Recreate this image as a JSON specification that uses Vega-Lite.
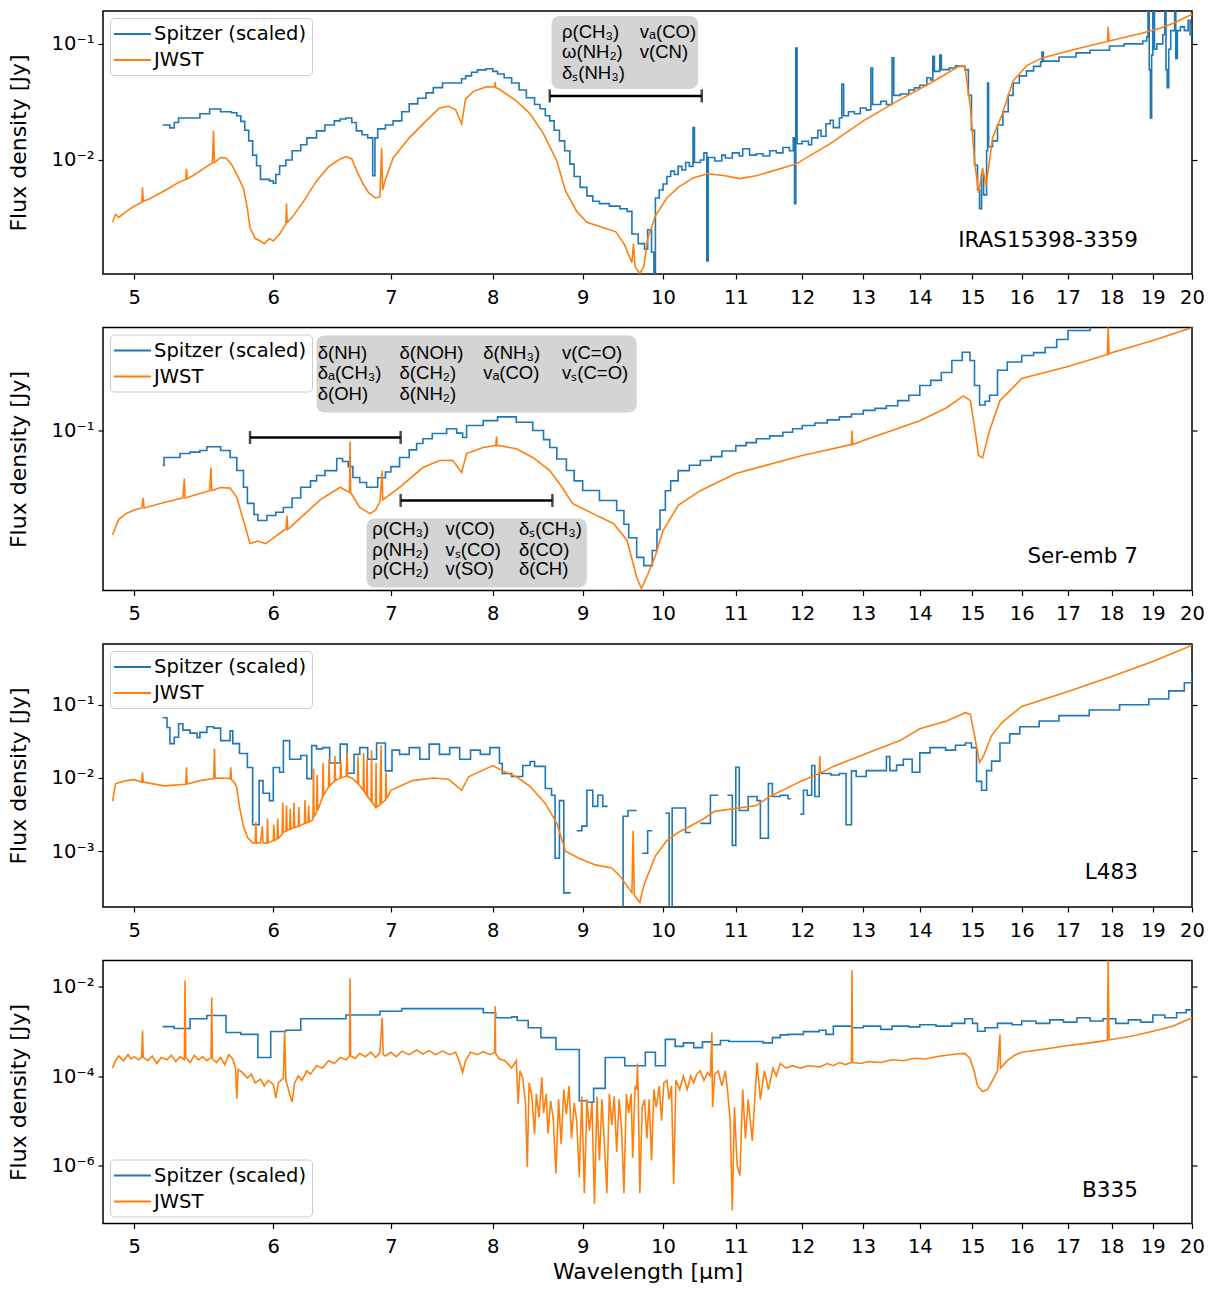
{
  "$schema": "https://vega.github.io/schema/vega-lite/v6.json",
  "background": "white",
  "padding": {"left": 6, "top": 10, "right": 10, "bottom": 6},
  "config": {
    "font": "DejaVu Sans",
    "view": {"stroke": "black", "strokeWidth": 1.5},
    "axis": {"labelFont": "DejaVu Sans", "labelFontSize": 19.5, "labelColor": "black", "tickColor": "black", "tickSize": 5, "tickWidth": 1.2, "domain": false, "grid": false, "titleFont": "DejaVu Sans", "titleFontSize": 22, "titleFontWeight": "normal", "titleColor": "black", "labelPadding": 4},
    "axisY": {"titlePadding": 21},
    "axisX": {"labelPadding": 9, "titlePadding": 5},
    "legend": {"fillColor": "white", "strokeColor": "#cccccc", "cornerRadius": 4, "padding": 5, "offset": 7, "labelFont": "DejaVu Sans", "labelFontSize": 19.5, "labelColor": "black", "labelOffset": 17, "symbolStrokeWidth": 2, "rowPadding": 5, "labelLimit": 400}
  },
  "spacing": 53.5,
  "bounds": "flush",
  "resolve": {"scale": {"color": "independent"}, "legend": {"color": "independent"}},
  "vconcat": [
    {
      "width": 1089, "height": 263,
      "encoding": {
        "x": {"field": "w", "type": "quantitative", "scale": {"type": "log", "domain": [4.8, 20], "nice": false}, "axis": {"values": [5,6,7,8,9,10,11,12,13,14,15,16,17,18,19,20], "format": "d", "labelFlush": false, "labelOverlap": false, "title": null}},
        "y": {"field": "f", "type": "quantitative", "scale": {"type": "log", "domain": [0.00104, 0.192], "nice": false}, "axis": null}
      },
      "resolve": {"axis": {"y": "independent"}},
      "layer": [
        {
          "data": {"values": [
            {"w":5.19,"f":0.020},{"w":5.24,"f":0.0189},{"w":5.27,"f":0.021},{"w":5.3,"f":0.023},{"w":5.38,"f":0.023},{"w":5.45,"f":0.025},{"w":5.52,"f":0.0275},{"w":5.6,"f":0.026},{"w":5.68,"f":0.0255},{"w":5.72,"f":0.024},{"w":5.75,"f":0.0215},{"w":5.78,"f":0.018},{"w":5.81,"f":0.0146},{"w":5.84,"f":0.011},{"w":5.87,"f":0.0089},{"w":5.9,"f":0.0068},{"w":5.97,"f":0.0066},{"w":6.0,"f":0.0063},{"w":6.02,"f":0.0075},{"w":6.05,"f":0.0089},{"w":6.1,"f":0.010},{"w":6.15,"f":0.012},{"w":6.22,"f":0.0135},{"w":6.27,"f":0.0155},{"w":6.35,"f":0.0178},{"w":6.42,"f":0.020},{"w":6.5,"f":0.0217},{"w":6.55,"f":0.0225},{"w":6.6,"f":0.023},{"w":6.65,"f":0.021},{"w":6.69,"f":0.0178},{"w":6.74,"f":0.0165},{"w":6.79,"f":0.0155},{"w":6.835,"f":0.0073},{"w":6.855,"f":0.0155},{"w":6.88,"f":0.0185},{"w":6.95,"f":0.020},{"w":7.02,"f":0.0217},{"w":7.1,"f":0.026},{"w":7.17,"f":0.0304},{"w":7.25,"f":0.034},{"w":7.33,"f":0.0378},{"w":7.4,"f":0.042},{"w":7.49,"f":0.046},{"w":7.62,"f":0.046},{"w":7.68,"f":0.050},{"w":7.72,"f":0.053},{"w":7.78,"f":0.057},{"w":7.84,"f":0.0597},{"w":7.93,"f":0.061},{"w":8.0,"f":0.058},{"w":8.05,"f":0.055},{"w":8.12,"f":0.051},{"w":8.2,"f":0.046},{"w":8.28,"f":0.040},{"w":8.36,"f":0.0343},{"w":8.45,"f":0.030},{"w":8.51,"f":0.0276},{"w":8.57,"f":0.024},{"w":8.62,"f":0.0217},{"w":8.67,"f":0.018},{"w":8.73,"f":0.0146},{"w":8.79,"f":0.012},{"w":8.85,"f":0.0092},{"w":8.9,"f":0.0072},{"w":8.97,"f":0.0058},{"w":9.05,"f":0.0049},{"w":9.12,"f":0.0044},{"w":9.2,"f":0.0042},{"w":9.32,"f":0.0040},{"w":9.45,"f":0.0038},{"w":9.54,"f":0.0036},{"w":9.6,"f":0.0023},{"w":9.68,"f":0.0019},{"w":9.76,"f":0.0017},{"w":9.8,"f":0.0025},{"w":9.85,"f":0.0016},{"w":9.88,"f":0.0005},{"w":9.9,"f":0.0047},{"w":9.95,"f":0.0055},{"w":10.0,"f":0.0062},{"w":10.05,"f":0.0072},{"w":10.1,"f":0.008},{"w":10.15,"f":0.0075},{"w":10.2,"f":0.0088},{"w":10.25,"f":0.0082},{"w":10.3,"f":0.0095},{"w":10.35,"f":0.0088},{"w":10.4,"f":0.019},{"w":10.42,"f":0.0095},{"w":10.5,"f":0.010},{"w":10.55,"f":0.0115},{"w":10.59,"f":0.00135},{"w":10.61,"f":0.0105},{"w":10.7,"f":0.0098},{"w":10.8,"f":0.011},{"w":10.85,"f":0.0104},{"w":10.95,"f":0.0115},{"w":11.05,"f":0.0108},{"w":11.1,"f":0.0125},{"w":11.2,"f":0.011},{"w":11.3,"f":0.0113},{"w":11.4,"f":0.0108},{"w":11.5,"f":0.012},{"w":11.6,"f":0.0115},{"w":11.7,"f":0.0128},{"w":11.8,"f":0.012},{"w":11.86,"f":0.0155},{"w":11.88,"f":0.0042},{"w":11.9,"f":0.092},{"w":11.92,"f":0.0138},{"w":12.0,"f":0.0145},{"w":12.1,"f":0.0135},{"w":12.15,"f":0.0155},{"w":12.25,"f":0.018},{"w":12.3,"f":0.016},{"w":12.38,"f":0.0205},{"w":12.45,"f":0.022},{"w":12.5,"f":0.019},{"w":12.6,"f":0.023},{"w":12.64,"f":0.045},{"w":12.67,"f":0.024},{"w":12.75,"f":0.026},{"w":12.85,"f":0.025},{"w":12.95,"f":0.028},{"w":13.05,"f":0.027},{"w":13.13,"f":0.062},{"w":13.16,"f":0.030},{"w":13.3,"f":0.032},{"w":13.4,"f":0.030},{"w":13.5,"f":0.076},{"w":13.53,"f":0.036},{"w":13.65,"f":0.037},{"w":13.8,"f":0.040},{"w":13.9,"f":0.0418},{"w":14.0,"f":0.044},{"w":14.13,"f":0.051},{"w":14.2,"f":0.049},{"w":14.24,"f":0.078},{"w":14.27,"f":0.058},{"w":14.37,"f":0.080},{"w":14.4,"f":0.060},{"w":14.55,"f":0.062},{"w":14.67,"f":0.0646},{"w":14.76,"f":0.064},{"w":14.85,"f":0.060},{"w":14.92,"f":0.036},{"w":14.98,"f":0.018},{"w":15.04,"f":0.009},{"w":15.1,"f":0.0055},{"w":15.14,"f":0.0038},{"w":15.18,"f":0.0075},{"w":15.22,"f":0.005},{"w":15.28,"f":0.012},{"w":15.3,"f":0.046},{"w":15.32,"f":0.013},{"w":15.4,"f":0.0146},{"w":15.5,"f":0.020},{"w":15.61,"f":0.026},{"w":15.72,"f":0.036},{"w":15.82,"f":0.046},{"w":15.95,"f":0.053},{"w":16.1,"f":0.0585},{"w":16.25,"f":0.064},{"w":16.4,"f":0.070},{"w":16.43,"f":0.085},{"w":16.46,"f":0.071},{"w":16.8,"f":0.077},{"w":17.18,"f":0.0836},{"w":17.5,"f":0.088},{"w":17.95,"f":0.096},{"w":18.3,"f":0.100},{"w":18.75,"f":0.106},{"w":18.85,"f":0.115},{"w":18.88,"f":0.3},{"w":18.91,"f":0.06},{"w":18.94,"f":0.023},{"w":18.97,"f":0.08},{"w":19.0,"f":0.3},{"w":19.04,"f":0.09},{"w":19.1,"f":0.10},{"w":19.25,"f":0.12},{"w":19.3,"f":0.3},{"w":19.33,"f":0.06},{"w":19.36,"f":0.042},{"w":19.4,"f":0.09},{"w":19.45,"f":0.13},{"w":19.55,"f":0.3},{"w":19.58,"f":0.075},{"w":19.62,"f":0.13},{"w":19.7,"f":0.14},{"w":19.8,"f":0.13},{"w":19.9,"f":0.16},{"w":19.95,"f":0.12},{"w":20.0,"f":0.15}
          ]},
          "mark": {"type": "line", "interpolate": "step-after", "strokeWidth": 1.6, "clip": true},
          "encoding": {
            "y": {"field": "f", "type": "quantitative", "scale": {"type": "log", "domain": [0.00104, 0.192], "nice": false}, "axis": {"orient": "left", "values": [0.1, 0.01], "labelExpr": "datum.value > 0.05 ? '10⁻¹' : '10⁻²'", "title": "Flux density [Jy]"}},
            "color": {"datum": "Spitzer (scaled)", "type": "nominal", "scale": {"domain": ["Spitzer (scaled)", "JWST"], "range": ["#1f77b4", "#ff7f0e"]}, "legend": {"title": null, "orient": "top-left", "symbolType": "M-1.2,0H2.5", "symbolSize": 400}}
          }
        },
        {
          "data": {"values": [
            {"w":4.86,"f":0.0029},{"w":4.88,"f":0.0034},{"w":4.9,"f":0.0032},{"w":4.95,"f":0.0036},{"w":5.0,"f":0.0040},{"w":5.05,"f":0.0043},{"w":5.055,"f":0.0058},{"w":5.06,"f":0.0044},{"w":5.1,"f":0.0046},{"w":5.2,"f":0.0054},{"w":5.3,"f":0.0064},{"w":5.35,"f":0.0068},{"w":5.355,"f":0.0084},{"w":5.36,"f":0.0069},{"w":5.4,"f":0.0073},{"w":5.5,"f":0.0088},{"w":5.54,"f":0.0094},{"w":5.548,"f":0.0178},{"w":5.555,"f":0.0095},{"w":5.6,"f":0.0105},{"w":5.64,"f":0.0104},{"w":5.68,"f":0.0092},{"w":5.72,"f":0.0075},{"w":5.77,"f":0.0057},{"w":5.8,"f":0.0038},{"w":5.82,"f":0.0026},{"w":5.86,"f":0.0021},{"w":5.9,"f":0.0020},{"w":5.93,"f":0.0019},{"w":5.97,"f":0.0021},{"w":6.0,"f":0.0020},{"w":6.05,"f":0.0023},{"w":6.1,"f":0.0028},{"w":6.105,"f":0.0042},{"w":6.11,"f":0.0029},{"w":6.15,"f":0.0032},{"w":6.25,"f":0.0045},{"w":6.35,"f":0.0066},{"w":6.45,"f":0.0087},{"w":6.55,"f":0.0102},{"w":6.6,"f":0.0107},{"w":6.65,"f":0.0102},{"w":6.7,"f":0.0078},{"w":6.75,"f":0.0062},{"w":6.8,"f":0.0052},{"w":6.86,"f":0.0047},{"w":6.9,"f":0.0048},{"w":6.915,"f":0.0127},{"w":6.925,"f":0.0055},{"w":6.95,"f":0.0068},{"w":7.02,"f":0.0104},{"w":7.17,"f":0.0155},{"w":7.33,"f":0.0217},{"w":7.46,"f":0.0280},{"w":7.55,"f":0.0290},{"w":7.62,"f":0.0270},{"w":7.68,"f":0.0205},{"w":7.72,"f":0.0336},{"w":7.8,"f":0.0390},{"w":7.93,"f":0.0426},{"w":8.02,"f":0.0425},{"w":8.025,"f":0.047},{"w":8.03,"f":0.0420},{"w":8.06,"f":0.0410},{"w":8.25,"f":0.0323},{"w":8.4,"f":0.0250},{"w":8.55,"f":0.0168},{"w":8.7,"f":0.0098},{"w":8.8,"f":0.0054},{"w":8.93,"f":0.0036},{"w":9.05,"f":0.0029},{"w":9.25,"f":0.0026},{"w":9.4,"f":0.0024},{"w":9.5,"f":0.0019},{"w":9.6,"f":0.0013},{"w":9.62,"f":0.0019},{"w":9.64,"f":0.0012},{"w":9.7,"f":0.00105},{"w":9.75,"f":0.0012},{"w":9.8,"f":0.0021},{"w":9.9,"f":0.0033},{"w":10.05,"f":0.0047},{"w":10.2,"f":0.0058},{"w":10.4,"f":0.0070},{"w":10.6,"f":0.0076},{"w":10.85,"f":0.0073},{"w":11.05,"f":0.0069},{"w":11.3,"f":0.0073},{"w":11.9,"f":0.0092},{"w":12.45,"f":0.0138},{"w":13.0,"f":0.0217},{"w":13.6,"f":0.0323},{"w":14.2,"f":0.046},{"w":14.75,"f":0.0646},{"w":14.85,"f":0.064},{"w":14.96,"f":0.028},{"w":15.04,"f":0.010},{"w":15.12,"f":0.0052},{"w":15.2,"f":0.0085},{"w":15.27,"f":0.0060},{"w":15.4,"f":0.0155},{"w":15.6,"f":0.025},{"w":15.82,"f":0.048},{"w":16.1,"f":0.0646},{"w":16.43,"f":0.0757},{"w":17.18,"f":0.0905},{"w":17.9,"f":0.105},{"w":17.92,"f":0.14},{"w":17.94,"f":0.106},{"w":18.75,"f":0.124},{"w":19.2,"f":0.137},{"w":19.5,"f":0.150},{"w":20.0,"f":0.18}
          ]},
          "mark": {"type": "line", "strokeWidth": 1.6, "clip": true},
          "encoding": {
            "y": {"field": "f", "type": "quantitative", "scale": {"type": "log", "domain": [0.00104, 0.192], "nice": false}, "axis": {"orient": "right", "values": [0.1, 0.01], "labels": false, "title": null}},
            "color": {"datum": "JWST", "type": "nominal", "scale": {"domain": ["Spitzer (scaled)", "JWST"], "range": ["#1f77b4", "#ff7f0e"]}, "legend": {"title": null, "orient": "top-left", "symbolType": "M-1.2,0H2.5", "symbolSize": 400}}
          }
        },
        {
          "data": {"values": [{"w": 8.64, "w2": 10.47, "f": 0.174, "f2": 0.0409}]},
          "mark": {"type": "rect", "fill": "#d4d4d4", "cornerRadius": 8},
          "encoding": {"x2": {"field": "w2"}, "y2": {"field": "f2"}}
        },
        {
          "data": {"values": [
            {"w": 8.76, "f": 0.127, "t": "ρ(CH₃)"}, {"w": 9.70, "f": 0.127, "t": "vₐ(CO)"},
            {"w": 8.76, "f": 0.0853, "t": "ω(NH₂)"}, {"w": 9.70, "f": 0.0853, "t": "v(CN)"},
            {"w": 8.76, "f": 0.0562, "t": "δₛ(NH₃)"}
          ]},
          "mark": {"type": "text", "align": "left", "baseline": "middle", "font": "Liberation Sans", "fontSize": 18.5, "color": "black"},
          "encoding": {"text": {"field": "t"}}
        },
        {
          "data": {"values": [{"w": 8.62, "w2": 10.52, "f": 0.0356}]},
          "layer": [
            {"mark": {"type": "rule", "strokeWidth": 2.5, "color": "black"}, "encoding": {"x2": {"field": "w2"}}},
            {"mark": {"type": "tick", "orient": "vertical", "size": 13, "thickness": 2.5, "color": "black"}},
            {"mark": {"type": "tick", "orient": "vertical", "size": 13, "thickness": 2.5, "color": "black"}, "encoding": {"x": {"field": "w2", "type": "quantitative"}}}
          ]
        },
        {
          "data": {"values": [{"w": 18.63, "f": 0.002, "t": "IRAS15398-3359"}]},
          "mark": {"type": "text", "align": "right", "baseline": "middle", "font": "DejaVu Sans", "fontSize": 21.5, "color": "black"},
          "encoding": {"text": {"field": "t"}}
        }
      ]
    },
    {
      "width": 1089, "height": 263,
      "encoding": {
        "x": {"field": "w", "type": "quantitative", "scale": {"type": "log", "domain": [4.8, 20], "nice": false}, "axis": {"values": [5,6,7,8,9,10,11,12,13,14,15,16,17,18,19,20], "format": "d", "labelFlush": false, "labelOverlap": false, "title": null}},
        "y": {"field": "f", "type": "quantitative", "scale": {"type": "log", "domain": [0.01585, 0.3273], "nice": false}, "axis": null}
      },
      "resolve": {"axis": {"y": "independent"}},
      "layer": [
        {
          "data": {"values": [
            {"w":5.19,"f":0.0668},{"w":5.2,"f":0.0733},{"w":5.31,"f":0.0767},{"w":5.38,"f":0.078},{"w":5.45,"f":0.0794},{"w":5.5,"f":0.083},{"w":5.6,"f":0.0794},{"w":5.67,"f":0.0733},{"w":5.72,"f":0.0631},{"w":5.77,"f":0.052},{"w":5.8,"f":0.0432},{"w":5.85,"f":0.038},{"w":5.88,"f":0.0355},{"w":5.95,"f":0.0376},{"w":6.02,"f":0.039},{"w":6.08,"f":0.0412},{"w":6.15,"f":0.046},{"w":6.22,"f":0.052},{"w":6.3,"f":0.056},{"w":6.35,"f":0.0596},{"w":6.42,"f":0.063},{"w":6.52,"f":0.0724},{"w":6.57,"f":0.070},{"w":6.62,"f":0.066},{"w":6.66,"f":0.0582},{"w":6.72,"f":0.055},{"w":6.78,"f":0.052},{"w":6.88,"f":0.058},{"w":6.95,"f":0.062},{"w":7.0,"f":0.066},{"w":7.08,"f":0.0733},{"w":7.17,"f":0.080},{"w":7.24,"f":0.0861},{"w":7.3,"f":0.091},{"w":7.39,"f":0.0966},{"w":7.53,"f":0.102},{"w":7.63,"f":0.097},{"w":7.69,"f":0.0923},{"w":7.73,"f":0.106},{"w":7.9,"f":0.112},{"w":8.05,"f":0.117},{"w":8.25,"f":0.110},{"w":8.43,"f":0.100},{"w":8.55,"f":0.090},{"w":8.62,"f":0.0822},{"w":8.7,"f":0.072},{"w":8.81,"f":0.0631},{"w":8.9,"f":0.056},{"w":9.0,"f":0.0501},{"w":9.2,"f":0.0447},{"w":9.41,"f":0.0398},{"w":9.5,"f":0.034},{"w":9.56,"f":0.0291},{"w":9.66,"f":0.0232},{"w":9.75,"f":0.0211},{"w":9.86,"f":0.0251},{"w":9.92,"f":0.032},{"w":9.96,"f":0.040},{"w":10.03,"f":0.050},{"w":10.1,"f":0.056},{"w":10.2,"f":0.063},{"w":10.35,"f":0.067},{"w":10.5,"f":0.0708},{"w":10.65,"f":0.074},{"w":10.8,"f":0.079},{"w":11.0,"f":0.084},{"w":11.15,"f":0.087},{"w":11.3,"f":0.091},{"w":11.5,"f":0.094},{"w":11.7,"f":0.098},{"w":11.85,"f":0.102},{"w":12.0,"f":0.106},{"w":12.2,"f":0.109},{"w":12.4,"f":0.113},{"w":12.6,"f":0.117},{"w":12.8,"f":0.121},{"w":13.0,"f":0.126},{"w":13.2,"f":0.129},{"w":13.4,"f":0.133},{"w":13.6,"f":0.141},{"w":13.8,"f":0.150},{"w":14.0,"f":0.168},{"w":14.2,"f":0.178},{"w":14.4,"f":0.195},{"w":14.6,"f":0.224},{"w":14.8,"f":0.246},{"w":14.95,"f":0.224},{"w":15.04,"f":0.168},{"w":15.14,"f":0.134},{"w":15.25,"f":0.140},{"w":15.34,"f":0.150},{"w":15.5,"f":0.200},{"w":15.7,"f":0.220},{"w":16.0,"f":0.237},{"w":16.25,"f":0.245},{"w":16.5,"f":0.260},{"w":16.75,"f":0.285},{"w":17.0,"f":0.316},{"w":17.5,"f":0.340}
          ]},
          "mark": {"type": "line", "interpolate": "step-after", "strokeWidth": 1.6, "clip": true},
          "encoding": {
            "y": {"field": "f", "type": "quantitative", "scale": {"type": "log", "domain": [0.01585, 0.3273], "nice": false}, "axis": {"orient": "left", "values": [0.1], "labelExpr": "'10⁻¹'", "title": "Flux density [Jy]"}},
            "color": {"datum": "Spitzer (scaled)", "type": "nominal", "scale": {"domain": ["Spitzer (scaled)", "JWST"], "range": ["#1f77b4", "#ff7f0e"]}, "legend": {"title": null, "orient": "top-left", "symbolType": "M-1.2,0H2.5", "symbolSize": 400}}
          }
        },
        {
          "data": {"values": [
            {"w":4.86,"f":0.030},{"w":4.9,"f":0.036},{"w":4.95,"f":0.0385},{"w":5.0,"f":0.040},{"w":5.05,"f":0.041},{"w":5.06,"f":0.046},{"w":5.065,"f":0.041},{"w":5.2,"f":0.0437},{"w":5.33,"f":0.046},{"w":5.34,"f":0.0575},{"w":5.345,"f":0.046},{"w":5.45,"f":0.0484},{"w":5.52,"f":0.050},{"w":5.53,"f":0.0653},{"w":5.535,"f":0.050},{"w":5.6,"f":0.0519},{"w":5.67,"f":0.0515},{"w":5.72,"f":0.0463},{"w":5.77,"f":0.0355},{"w":5.82,"f":0.0272},{"w":5.88,"f":0.028},{"w":5.94,"f":0.0272},{"w":6.0,"f":0.029},{"w":6.08,"f":0.0316},{"w":6.1,"f":0.032},{"w":6.11,"f":0.0376},{"w":6.115,"f":0.032},{"w":6.22,"f":0.0367},{"w":6.38,"f":0.045},{"w":6.55,"f":0.052},{"w":6.63,"f":0.049},{"w":6.635,"f":0.088},{"w":6.64,"f":0.049},{"w":6.72,"f":0.0412},{"w":6.81,"f":0.0384},{"w":6.86,"f":0.040},{"w":6.9,"f":0.044},{"w":6.92,"f":0.063},{"w":6.925,"f":0.045},{"w":7.08,"f":0.052},{"w":7.3,"f":0.0653},{"w":7.46,"f":0.0708},{"w":7.59,"f":0.071},{"w":7.68,"f":0.0617},{"w":7.73,"f":0.0767},{"w":7.9,"f":0.0822},{"w":8.03,"f":0.084},{"w":8.04,"f":0.0933},{"w":8.045,"f":0.084},{"w":8.07,"f":0.0841},{"w":8.25,"f":0.081},{"w":8.43,"f":0.0733},{"w":8.62,"f":0.0631},{"w":8.76,"f":0.052},{"w":8.88,"f":0.0432},{"w":9.12,"f":0.0384},{"w":9.37,"f":0.0343},{"w":9.54,"f":0.0282},{"w":9.66,"f":0.0184},{"w":9.72,"f":0.0162},{"w":9.8,"f":0.019},{"w":9.9,"f":0.0237},{"w":10.0,"f":0.0316},{"w":10.2,"f":0.0422},{"w":10.5,"f":0.050},{"w":11.0,"f":0.061},{"w":12.0,"f":0.075},{"w":12.8,"f":0.085},{"w":12.81,"f":0.100},{"w":12.82,"f":0.085},{"w":13.0,"f":0.089},{"w":14.0,"f":0.112},{"w":14.5,"f":0.130},{"w":14.82,"f":0.149},{"w":14.96,"f":0.141},{"w":15.05,"f":0.100},{"w":15.12,"f":0.075},{"w":15.2,"f":0.073},{"w":15.34,"f":0.100},{"w":15.55,"f":0.141},{"w":16.0,"f":0.182},{"w":17.0,"f":0.209},{"w":17.9,"f":0.240},{"w":17.92,"f":0.33},{"w":17.94,"f":0.241},{"w":18.0,"f":0.245},{"w":19.0,"f":0.282},{"w":20.0,"f":0.327}
          ]},
          "mark": {"type": "line", "strokeWidth": 1.6, "clip": true},
          "encoding": {
            "y": {"field": "f", "type": "quantitative", "scale": {"type": "log", "domain": [0.01585, 0.3273], "nice": false}, "axis": {"orient": "right", "values": [0.1], "labels": false, "title": null}},
            "color": {"datum": "JWST", "type": "nominal", "scale": {"domain": ["Spitzer (scaled)", "JWST"], "range": ["#1f77b4", "#ff7f0e"]}, "legend": {"title": null, "orient": "top-left", "symbolType": "M-1.2,0H2.5", "symbolSize": 400}}
          }
        },
        {
          "data": {"values": [
            {"w": 6.35, "w2": 9.66, "f": 0.2985, "f2": 0.123},
            {"w": 6.78, "w2": 9.05, "f": 0.0363, "f2": 0.0164}
          ]},
          "mark": {"type": "rect", "fill": "#d4d4d4", "cornerRadius": 8},
          "encoding": {"x2": {"field": "w2"}, "y2": {"field": "f2"}}
        },
        {
          "data": {"values": [
            {"w": 6.36, "f": 0.245, "t": "δ(NH)"}, {"w": 6.36, "f": 0.193, "t": "δₐ(CH₃)"}, {"w": 6.36, "f": 0.153, "t": "δ(OH)"},
            {"w": 7.08, "f": 0.245, "t": "δ(NOH)"}, {"w": 7.08, "f": 0.193, "t": "δ(CH₂)"}, {"w": 7.08, "f": 0.153, "t": "δ(NH₂)"},
            {"w": 7.90, "f": 0.245, "t": "δ(NH₃)"}, {"w": 7.90, "f": 0.193, "t": "vₐ(CO)"},
            {"w": 8.76, "f": 0.245, "t": "v(C=O)"}, {"w": 8.76, "f": 0.193, "t": "vₛ(C=O)"},
            {"w": 6.83, "f": 0.032, "t": "ρ(CH₃)"}, {"w": 6.83, "f": 0.0254, "t": "ρ(NH₂)"}, {"w": 6.83, "f": 0.0202, "t": "ρ(CH₂)"},
            {"w": 7.52, "f": 0.032, "t": "v(CO)"}, {"w": 7.52, "f": 0.0254, "t": "vₛ(CO)"}, {"w": 7.52, "f": 0.0202, "t": "v(SO)"},
            {"w": 8.28, "f": 0.032, "t": "δₛ(CH₃)"}, {"w": 8.28, "f": 0.0254, "t": "δ(CO)"}, {"w": 8.28, "f": 0.0202, "t": "δ(CH)"}
          ]},
          "mark": {"type": "text", "align": "left", "baseline": "middle", "font": "Liberation Sans", "fontSize": 18.5, "color": "black"},
          "encoding": {"text": {"field": "t"}}
        },
        {
          "data": {"values": [{"w": 5.82, "w2": 7.09, "f": 0.0923}, {"w": 7.09, "w2": 8.65, "f": 0.0447}]},
          "layer": [
            {"mark": {"type": "rule", "strokeWidth": 2.5, "color": "black"}, "encoding": {"x2": {"field": "w2"}}},
            {"mark": {"type": "tick", "orient": "vertical", "size": 13, "thickness": 2.5, "color": "black"}},
            {"mark": {"type": "tick", "orient": "vertical", "size": 13, "thickness": 2.5, "color": "black"}, "encoding": {"x": {"field": "w2", "type": "quantitative"}}}
          ]
        },
        {
          "data": {"values": [{"w": 18.63, "f": 0.0234, "t": "Ser-emb 7"}]},
          "mark": {"type": "text", "align": "right", "baseline": "middle", "font": "DejaVu Sans", "fontSize": 21.5, "color": "black"},
          "encoding": {"text": {"field": "t"}}
        }
      ]
    },
    {
      "width": 1089, "height": 263,
      "encoding": {
        "x": {"field": "w", "type": "quantitative", "scale": {"type": "log", "domain": [4.8, 20], "nice": false}, "axis": {"values": [5,6,7,8,9,10,11,12,13,14,15,16,17,18,19,20], "format": "d", "labelFlush": false, "labelOverlap": false, "title": null}},
        "y": {"field": "f", "type": "quantitative", "scale": {"type": "log", "domain": [0.000173, 0.676], "nice": false}, "axis": null}
      },
      "resolve": {"axis": {"y": "independent"}},
      "layer": [
        {
          "data": {"values": [
            {"seg":"a","w":5.19,"f":0.0665},{"seg":"a","w":5.22,"f":0.049},{"seg":"a","w":5.24,"f":0.0295},{"seg":"a","w":5.27,"f":0.036},{"seg":"a","w":5.3,"f":0.055},{"seg":"a","w":5.33,"f":0.045},{"seg":"a","w":5.38,"f":0.041},{"seg":"a","w":5.43,"f":0.0356},{"seg":"a","w":5.45,"f":0.042},{"seg":"a","w":5.5,"f":0.050},{"seg":"a","w":5.55,"f":0.048},{"seg":"a","w":5.6,"f":0.0324},{"seg":"a","w":5.67,"f":0.044},{"seg":"a","w":5.69,"f":0.0295},{"seg":"a","w":5.74,"f":0.0216},{"seg":"a","w":5.8,"f":0.0139},{"seg":"a","w":5.84,"f":0.0023},{"seg":"a","w":5.89,"f":0.0092},{"seg":"a","w":5.92,"f":0.0062},{"seg":"a","w":5.97,"f":0.0049},{"seg":"a","w":6.0,"f":0.0139},{"seg":"a","w":6.05,"f":0.012},{"seg":"a","w":6.08,"f":0.0324},{"seg":"a","w":6.13,"f":0.018},{"seg":"a","w":6.22,"f":0.0203},{"seg":"a","w":6.27,"f":0.0098},{"seg":"a","w":6.31,"f":0.0277},{"seg":"a","w":6.35,"f":0.025},{"seg":"a","w":6.4,"f":0.026},{"seg":"a","w":6.46,"f":0.016},{"seg":"a","w":6.55,"f":0.029},{"seg":"a","w":6.61,"f":0.0116},{"seg":"a","w":6.67,"f":0.021},{"seg":"a","w":6.72,"f":0.026},{"seg":"a","w":6.79,"f":0.018},{"seg":"a","w":6.87,"f":0.030},{"seg":"a","w":6.95,"f":0.0125},{"seg":"a","w":7.01,"f":0.024},{"seg":"a","w":7.08,"f":0.021},{"seg":"a","w":7.17,"f":0.026},{"seg":"a","w":7.27,"f":0.018},{"seg":"a","w":7.36,"f":0.029},{"seg":"a","w":7.46,"f":0.021},{"seg":"a","w":7.56,"f":0.026},{"seg":"a","w":7.66,"f":0.018},{"seg":"a","w":7.77,"f":0.024},{"seg":"a","w":7.87,"f":0.021},{"seg":"a","w":7.97,"f":0.026},{"seg":"a","w":8.07,"f":0.0158},{"seg":"a","w":8.1,"f":0.0115},{"seg":"a","w":8.2,"f":0.0105},{"seg":"a","w":8.32,"f":0.0148},{"seg":"a","w":8.4,"f":0.0168},{"seg":"a","w":8.45,"f":0.0144},{"seg":"a","w":8.57,"f":0.0072},{"seg":"a","w":8.64,"f":0.0058},{"seg":"a","w":8.68,"f":0.0008},{"seg":"a","w":8.73,"f":0.0049},{"seg":"a","w":8.78,"f":0.00027},{"seg":"a","w":8.86,"f":0.00027},
            {"seg":"b","w":8.93,"f":0.0019},{"seg":"b","w":8.99,"f":0.0022},{"seg":"b","w":9.05,"f":0.0068},{"seg":"b","w":9.12,"f":0.0041},{"seg":"b","w":9.18,"f":0.0058},{"seg":"b","w":9.24,"f":0.0041},{"seg":"b","w":9.3,"f":0.0041},
            {"seg":"c","w":9.48,"f":0.00015},{"seg":"c","w":9.49,"f":0.003},{"seg":"c","w":9.55,"f":0.0036},{"seg":"c","w":9.66,"f":0.0036},
            {"seg":"d","w":9.73,"f":0.00094},{"seg":"d","w":9.8,"f":0.0019},{"seg":"d","w":9.86,"f":0.0019},
            {"seg":"e","w":10.03,"f":0.0033},{"seg":"e","w":10.08,"f":0.0001},{"seg":"e","w":10.12,"f":0.0039},{"seg":"e","w":10.27,"f":0.0039},{"seg":"e","w":10.3,"f":0.0018},{"seg":"e","w":10.37,"f":0.0018},
            {"seg":"f","w":10.5,"f":0.0024},{"seg":"f","w":10.64,"f":0.0058},{"seg":"f","w":10.75,"f":0.0058},
            {"seg":"g","w":10.88,"f":0.0058},{"seg":"g","w":10.95,"f":0.0012},{"seg":"g","w":11.0,"f":0.014},{"seg":"g","w":11.05,"f":0.0036},{"seg":"g","w":11.18,"f":0.0056},{"seg":"g","w":11.31,"f":0.0049},{"seg":"g","w":11.36,"f":0.0015},{"seg":"g","w":11.48,"f":0.0084},{"seg":"g","w":11.54,"f":0.0056},{"seg":"g","w":11.66,"f":0.0058},{"seg":"g","w":11.78,"f":0.0052},{"seg":"g","w":11.82,"f":0.0052},
            {"seg":"h","w":11.97,"f":0.0032},{"seg":"h","w":12.02,"f":0.0068},{"seg":"h","w":12.08,"f":0.0058},{"seg":"h","w":12.15,"f":0.0148},{"seg":"h","w":12.2,"f":0.0056},{"seg":"h","w":12.27,"f":0.0115},{"seg":"h","w":12.46,"f":0.0110},{"seg":"h","w":12.6,"f":0.0115},{"seg":"h","w":12.71,"f":0.0023},{"seg":"h","w":12.8,"f":0.0125},{"seg":"h","w":12.88,"f":0.0105},{"seg":"h","w":13.05,"f":0.0126},{"seg":"h","w":13.22,"f":0.0126},{"seg":"h","w":13.4,"f":0.0196},{"seg":"h","w":13.46,"f":0.0126},{"seg":"h","w":13.58,"f":0.015},{"seg":"h","w":13.7,"f":0.018},{"seg":"h","w":13.86,"f":0.012},{"seg":"h","w":14.0,"f":0.022},{"seg":"h","w":14.19,"f":0.026},{"seg":"h","w":14.48,"f":0.024},{"seg":"h","w":14.67,"f":0.028},{"seg":"h","w":14.86,"f":0.030},{"seg":"h","w":14.98,"f":0.026},{"seg":"h","w":15.08,"f":0.009},{"seg":"h","w":15.18,"f":0.0068},{"seg":"h","w":15.28,"f":0.0126},{"seg":"h","w":15.38,"f":0.017},{"seg":"h","w":15.55,"f":0.030},{"seg":"h","w":15.75,"f":0.040},{"seg":"h","w":15.96,"f":0.050},{"seg":"h","w":16.37,"f":0.060},{"seg":"h","w":16.8,"f":0.071},{"seg":"h","w":17.48,"f":0.085},{"seg":"h","w":18.19,"f":0.100},{"seg":"h","w":18.9,"f":0.120},{"seg":"h","w":19.4,"f":0.155},{"seg":"h","w":19.8,"f":0.200},{"seg":"h","w":20.0,"f":0.272}
          ]},
          "mark": {"type": "line", "interpolate": "step-after", "strokeWidth": 1.6, "clip": true},
          "encoding": {
            "y": {"field": "f", "type": "quantitative", "scale": {"type": "log", "domain": [0.000173, 0.676], "nice": false}, "axis": {"orient": "left", "values": [0.1, 0.01, 0.001], "labelExpr": "datum.value > 0.05 ? '10⁻¹' : datum.value > 0.005 ? '10⁻²' : '10⁻³'", "title": "Flux density [Jy]"}},
            "detail": {"field": "seg"},
            "color": {"datum": "Spitzer (scaled)", "type": "nominal", "scale": {"domain": ["Spitzer (scaled)", "JWST"], "range": ["#1f77b4", "#ff7f0e"]}, "legend": {"title": null, "orient": "top-left", "symbolType": "M-1.2,0H2.5", "symbolSize": 400}}
          }
        },
        {
          "data": {"values": [
            {"w":4.86,"f":0.0048},{"w":4.88,"f":0.0084},{"w":4.95,"f":0.0092},{"w":5.0,"f":0.0095},{"w":5.05,"f":0.0088},{"w":5.055,"f":0.012},{"w":5.06,"f":0.0088},{"w":5.2,"f":0.0078},{"w":5.35,"f":0.0082},{"w":5.355,"f":0.014},{"w":5.36,"f":0.0083},{"w":5.45,"f":0.0092},{"w":5.55,"f":0.0098},{"w":5.555,"f":0.025},{"w":5.56,"f":0.0099},{"w":5.6,"f":0.010},{"w":5.67,"f":0.0098},{"w":5.675,"f":0.014},{"w":5.68,"f":0.0095},{"w":5.7,"f":0.0088},{"w":5.72,"f":0.0074},{"w":5.74,"f":0.0040},{"w":5.77,"f":0.0022},{"w":5.80,"f":0.00155},{"w":5.84,"f":0.0013},{"w":5.86,"f":0.0013},{"w":5.865,"f":0.0025},{"w":5.87,"f":0.0013},{"w":5.9,"f":0.0013},{"w":5.915,"f":0.0022},{"w":5.92,"f":0.0013},{"w":5.95,"f":0.00128},{"w":5.955,"f":0.0028},{"w":5.96,"f":0.0013},{"w":6.0,"f":0.0014},{"w":6.005,"f":0.0023},{"w":6.01,"f":0.0014},{"w":6.03,"f":0.0015},{"w":6.035,"f":0.0028},{"w":6.04,"f":0.0015},{"w":6.07,"f":0.0017},{"w":6.075,"f":0.0046},{"w":6.08,"f":0.0018},{"w":6.1,"f":0.0019},{"w":6.105,"f":0.0042},{"w":6.11,"f":0.0019},{"w":6.13,"f":0.0020},{"w":6.135,"f":0.0038},{"w":6.14,"f":0.0020},{"w":6.16,"f":0.0021},{"w":6.165,"f":0.0046},{"w":6.17,"f":0.0021},{"w":6.2,"f":0.0022},{"w":6.205,"f":0.0040},{"w":6.21,"f":0.0022},{"w":6.25,"f":0.0024},{"w":6.255,"f":0.0050},{"w":6.26,"f":0.0024},{"w":6.28,"f":0.0025},{"w":6.285,"f":0.0042},{"w":6.29,"f":0.0025},{"w":6.32,"f":0.0027},{"w":6.325,"f":0.0134},{"w":6.33,"f":0.0030},{"w":6.35,"f":0.0034},{"w":6.355,"f":0.011},{"w":6.36,"f":0.0036},{"w":6.4,"f":0.0055},{"w":6.405,"f":0.016},{"w":6.41,"f":0.0058},{"w":6.45,"f":0.0075},{"w":6.455,"f":0.018},{"w":6.46,"f":0.0078},{"w":6.5,"f":0.0090},{"w":6.505,"f":0.020},{"w":6.51,"f":0.0092},{"w":6.55,"f":0.0100},{"w":6.555,"f":0.017},{"w":6.56,"f":0.0101},{"w":6.6,"f":0.0105},{"w":6.61,"f":0.022},{"w":6.615,"f":0.0105},{"w":6.65,"f":0.0100},{"w":6.7,"f":0.0085},{"w":6.705,"f":0.020},{"w":6.71,"f":0.0082},{"w":6.75,"f":0.0068},{"w":6.755,"f":0.022},{"w":6.76,"f":0.0066},{"w":6.78,"f":0.0058},{"w":6.785,"f":0.018},{"w":6.79,"f":0.0056},{"w":6.82,"f":0.0048},{"w":6.825,"f":0.024},{"w":6.83,"f":0.0047},{"w":6.86,"f":0.0040},{"w":6.865,"f":0.016},{"w":6.87,"f":0.0040},{"w":6.9,"f":0.0043},{"w":6.91,"f":0.028},{"w":6.915,"f":0.0045},{"w":6.95,"f":0.0050},{"w":6.955,"f":0.012},{"w":6.96,"f":0.0052},{"w":7.0,"f":0.0068},{"w":7.2,"f":0.0092},{"w":7.4,"f":0.0100},{"w":7.55,"f":0.0096},{"w":7.68,"f":0.0068},{"w":7.75,"f":0.0104},{"w":8.0,"f":0.0148},{"w":8.1,"f":0.0126},{"w":8.25,"f":0.0104},{"w":8.4,"f":0.0077},{"w":8.57,"f":0.0045},{"w":8.7,"f":0.0024},{"w":8.8,"f":0.0010},{"w":8.95,"f":0.00081},{"w":9.15,"f":0.00065},{"w":9.35,"f":0.00059},{"w":9.45,"f":0.00046},{"w":9.6,"f":0.00027},{"w":9.615,"f":0.0019},{"w":9.63,"f":0.00025},{"w":9.7,"f":0.00020},{"w":9.75,"f":0.00034},{"w":9.9,"f":0.00086},{"w":10.05,"f":0.0014},{"w":10.2,"f":0.0018},{"w":10.5,"f":0.0026},{"w":10.7,"f":0.0035},{"w":11.3,"f":0.0042},{"w":11.5,"f":0.0056},{"w":12.0,"f":0.0092},{"w":12.27,"f":0.0115},{"w":12.28,"f":0.020},{"w":12.29,"f":0.0116},{"w":12.5,"f":0.0144},{"w":13.05,"f":0.0216},{"w":13.64,"f":0.0324},{"w":14.0,"f":0.047},{"w":14.5,"f":0.060},{"w":14.86,"f":0.078},{"w":14.96,"f":0.074},{"w":15.04,"f":0.038},{"w":15.14,"f":0.0163},{"w":15.22,"f":0.020},{"w":15.38,"f":0.038},{"w":15.6,"f":0.058},{"w":16.0,"f":0.095},{"w":17.0,"f":0.152},{"w":18.0,"f":0.243},{"w":19.0,"f":0.389},{"w":20.0,"f":0.65}
          ]},
          "mark": {"type": "line", "strokeWidth": 1.6, "clip": true},
          "encoding": {
            "y": {"field": "f", "type": "quantitative", "scale": {"type": "log", "domain": [0.000173, 0.676], "nice": false}, "axis": {"orient": "right", "values": [0.1, 0.01, 0.001], "labels": false, "title": null}},
            "color": {"datum": "JWST", "type": "nominal", "scale": {"domain": ["Spitzer (scaled)", "JWST"], "range": ["#1f77b4", "#ff7f0e"]}, "legend": {"title": null, "orient": "top-left", "symbolType": "M-1.2,0H2.5", "symbolSize": 400}}
          }
        },
        {
          "data": {"values": [{"w": 18.63, "f": 0.000502, "t": "L483"}]},
          "mark": {"type": "text", "align": "right", "baseline": "middle", "font": "DejaVu Sans", "fontSize": 21.5, "color": "black"},
          "encoding": {"text": {"field": "t"}}
        }
      ]
    },
    {
      "width": 1089, "height": 263,
      "encoding": {
        "x": {"field": "w", "type": "quantitative", "scale": {"type": "log", "domain": [4.8, 20], "nice": false}, "axis": {"values": [5,6,7,8,9,10,11,12,13,14,15,16,17,18,19,20], "format": "d", "labelFlush": false, "labelOverlap": false, "title": "Wavelength [μm]"}},
        "y": {"field": "f", "type": "quantitative", "scale": {"type": "log", "domain": [5.06e-8, 0.0381], "nice": false}, "axis": null}
      },
      "resolve": {"axis": {"y": "independent"}},
      "layer": [
        {
          "data": {"values": [
            {"w":5.19,"f":0.00127},{"w":5.27,"f":0.00115},{"w":5.38,"f":0.0019},{"w":5.5,"f":0.00225},{"w":5.64,"f":0.00094},{"w":5.75,"f":0.00085},{"w":5.88,"f":0.00026},{"w":5.98,"f":0.00099},{"w":6.1,"f":0.00105},{"w":6.22,"f":0.0019},{"w":6.6,"f":0.0023},{"w":6.9,"f":0.0028},{"w":7.1,"f":0.0032},{"w":7.9,"f":0.0026},{"w":8.03,"f":0.0020},{"w":8.2,"f":0.0021},{"w":8.26,"f":0.00174},{"w":8.38,"f":0.0012},{"w":8.52,"f":0.00072},{"w":8.69,"f":0.00039},{"w":8.96,"f":0.000028},{"w":9.05,"f":0.000026},{"w":9.13,"f":0.000053},{"w":9.27,"f":0.00026},{"w":9.51,"f":0.00017},{"w":9.77,"f":0.00034},{"w":9.9,"f":0.00017},{"w":10.03,"f":0.00066},{"w":10.16,"f":0.00046},{"w":10.27,"f":0.00055},{"w":10.41,"f":0.00043},{"w":10.53,"f":0.00058},{"w":10.66,"f":0.0005},{"w":10.78,"f":0.00062},{"w":10.9,"f":0.00059},{"w":11.16,"f":0.00059},{"w":11.4,"f":0.00055},{"w":11.54,"f":0.00072},{"w":11.66,"f":0.00083},{"w":11.78,"f":0.00085},{"w":12.02,"f":0.00098},{"w":12.27,"f":0.00105},{"w":12.38,"f":0.00085},{"w":12.5,"f":0.0013},{"w":12.8,"f":0.0012},{"w":13.0,"f":0.0013},{"w":13.3,"f":0.0011},{"w":13.5,"f":0.0013},{"w":13.8,"f":0.00125},{"w":14.0,"f":0.0014},{"w":14.3,"f":0.0013},{"w":14.6,"f":0.0015},{"w":14.85,"f":0.0019},{"w":15.0,"f":0.0015},{"w":15.1,"f":0.0010},{"w":15.25,"f":0.0012},{"w":15.5,"f":0.0015},{"w":15.8,"f":0.0014},{"w":16.0,"f":0.0017},{"w":16.3,"f":0.0015},{"w":16.6,"f":0.0018},{"w":16.9,"f":0.0016},{"w":17.2,"f":0.0020},{"w":17.5,"f":0.0017},{"w":17.8,"f":0.0019},{"w":18.1,"f":0.0015},{"w":18.4,"f":0.0018},{"w":18.7,"f":0.0016},{"w":19.0,"f":0.0023},{"w":19.3,"f":0.0020},{"w":19.6,"f":0.0026},{"w":19.85,"f":0.0030},{"w":20.0,"f":0.0028}
          ]},
          "mark": {"type": "line", "interpolate": "step-after", "strokeWidth": 1.6, "clip": true},
          "encoding": {
            "y": {"field": "f", "type": "quantitative", "scale": {"type": "log", "domain": [5.06e-8, 0.0381], "nice": false}, "axis": {"orient": "left", "values": [0.01, 0.0001, 0.000001], "labelExpr": "datum.value > 0.005 ? '10⁻²' : datum.value > 0.00005 ? '10⁻⁴' : '10⁻⁶'", "title": "Flux density [Jy]"}},
            "color": {"datum": "Spitzer (scaled)", "type": "nominal", "scale": {"domain": ["Spitzer (scaled)", "JWST"], "range": ["#1f77b4", "#ff7f0e"]}, "legend": {"title": null, "orient": "bottom-left", "symbolType": "M-1.2,0H2.5", "symbolSize": 400}}
          }
        },
        {
          "data": {"values": [
            {"w":4.86,"f":0.00015},{"w":4.88,"f":0.00022},{"w":4.9,"f":0.00028},{"w":4.93,"f":0.00022},{"w":4.96,"f":0.00030},{"w":4.98,"f":0.00024},{"w":5.0,"f":0.00027},{"w":5.03,"f":0.00023},{"w":5.05,"f":0.00026},{"w":5.055,"f":0.00104},{"w":5.06,"f":0.00026},{"w":5.09,"f":0.00022},{"w":5.12,"f":0.00028},{"w":5.15,"f":0.00019},{"w":5.18,"f":0.00026},{"w":5.22,"f":0.00023},{"w":5.25,"f":0.00029},{"w":5.28,"f":0.00021},{"w":5.31,"f":0.00027},{"w":5.34,"f":0.00023},{"w":5.345,"f":0.0136},{"w":5.35,"f":0.00026},{"w":5.38,"f":0.00020},{"w":5.41,"f":0.00029},{"w":5.44,"f":0.00023},{"w":5.47,"f":0.00027},{"w":5.5,"f":0.00022},{"w":5.53,"f":0.00026},{"w":5.535,"f":0.0057},{"w":5.54,"f":0.00024},{"w":5.57,"f":0.00020},{"w":5.6,"f":0.00026},{"w":5.63,"f":0.00018},{"w":5.66,"f":0.00030},{"w":5.69,"f":0.00024},{"w":5.71,"f":0.00015},{"w":5.72,"f":0.000031},{"w":5.73,"f":0.00014},{"w":5.76,"f":0.00012},{"w":5.8,"f":0.00009},{"w":5.83,"f":0.00011},{"w":5.86,"f":0.00007},{"w":5.9,"f":0.000085},{"w":5.93,"f":0.00006},{"w":5.96,"f":0.00008},{"w":6.0,"f":0.000065},{"w":6.02,"f":0.000032},{"w":6.04,"f":0.00007},{"w":6.08,"f":0.00009},{"w":6.09,"f":0.00104},{"w":6.1,"f":0.00008},{"w":6.13,"f":0.00004},{"w":6.15,"f":0.000026},{"w":6.17,"f":0.00007},{"w":6.2,"f":0.00010},{"w":6.23,"f":0.00008},{"w":6.27,"f":0.00013},{"w":6.3,"f":0.00011},{"w":6.35,"f":0.00017},{"w":6.4,"f":0.00015},{"w":6.45,"f":0.00022},{"w":6.5,"f":0.00019},{"w":6.55,"f":0.00026},{"w":6.6,"f":0.00023},{"w":6.63,"f":0.00028},{"w":6.635,"f":0.015},{"w":6.64,"f":0.00028},{"w":6.68,"f":0.00025},{"w":6.72,"f":0.00032},{"w":6.77,"f":0.00027},{"w":6.82,"f":0.00034},{"w":6.86,"f":0.00026},{"w":6.9,"f":0.00033},{"w":6.92,"f":0.002},{"w":6.93,"f":0.0003},{"w":6.95,"f":0.00028},{"w":7.0,"f":0.00034},{"w":7.05,"f":0.00027},{"w":7.1,"f":0.00036},{"w":7.17,"f":0.00030},{"w":7.24,"f":0.00038},{"w":7.3,"f":0.00031},{"w":7.36,"f":0.00037},{"w":7.42,"f":0.00030},{"w":7.49,"f":0.00036},{"w":7.56,"f":0.00030},{"w":7.62,"f":0.00034},{"w":7.66,"f":0.00020},{"w":7.69,"f":0.00012},{"w":7.72,"f":0.00022},{"w":7.77,"f":0.00034},{"w":7.84,"f":0.00030},{"w":7.9,"f":0.00035},{"w":7.97,"f":0.00030},{"w":8.02,"f":0.00034},{"w":8.025,"f":0.0036},{"w":8.03,"f":0.00032},{"w":8.07,"f":0.00024},{"w":8.13,"f":0.00022},{"w":8.2,"f":0.00015},{"w":8.25,"f":0.00022},{"w":8.27,"f":0.000024},{"w":8.29,"f":0.00013},{"w":8.32,"f":0.00009},{"w":8.35,"f":0.000025},{"w":8.37,"f":9.2e-7},{"w":8.39,"f":0.00007},{"w":8.42,"f":0.000035},{"w":8.45,"f":0.000005},{"w":8.47,"f":0.00004},{"w":8.5,"f":0.000012},{"w":8.53,"f":0.000093},{"w":8.55,"f":0.000015},{"w":8.58,"f":0.00004},{"w":8.6,"f":0.0000052},{"w":8.63,"f":0.000028},{"w":8.66,"f":0.000011},{"w":8.69,"f":6.6e-7},{"w":8.72,"f":0.00003},{"w":8.75,"f":0.000003},{"w":8.78,"f":0.00005},{"w":8.81,"f":0.000014},{"w":8.84,"f":0.00006},{"w":8.87,"f":0.000004},{"w":8.9,"f":0.000025},{"w":8.93,"f":0.00001},{"w":8.96,"f":5.5e-7},{"w":8.99,"f":0.000035},{"w":9.02,"f":2.4e-7},{"w":9.05,"f":0.00003},{"w":9.08,"f":0.000006},{"w":9.11,"f":0.000025},{"w":9.14,"f":1.4e-7},{"w":9.17,"f":0.000035},{"w":9.2,"f":0.0000013},{"w":9.23,"f":0.00003},{"w":9.26,"f":0.000003},{"w":9.29,"f":2.4e-7},{"w":9.32,"f":0.00004},{"w":9.35,"f":0.000008},{"w":9.38,"f":0.000035},{"w":9.41,"f":0.000002},{"w":9.44,"f":0.00003},{"w":9.47,"f":0.000007},{"w":9.5,"f":2.4e-7},{"w":9.53,"f":0.00004},{"w":9.56,"f":0.000015},{"w":9.59,"f":0.00004},{"w":9.61,"f":0.0000015},{"w":9.64,"f":0.00006},{"w":9.66,"f":0.00005},{"w":9.67,"f":0.00019},{"w":9.68,"f":0.00004},{"w":9.7,"f":2.4e-7},{"w":9.73,"f":0.00002},{"w":9.76,"f":0.00003},{"w":9.79,"f":0.000004},{"w":9.82,"f":0.00003},{"w":9.85,"f":0.0000013},{"w":9.88,"f":0.00005},{"w":9.91,"f":0.00002},{"w":9.95,"f":0.00006},{"w":9.98,"f":0.00001},{"w":10.01,"f":0.00007},{"w":10.05,"f":0.00008},{"w":10.08,"f":0.00003},{"w":10.11,"f":0.00006},{"w":10.14,"f":3.8e-7},{"w":10.17,"f":0.00008},{"w":10.22,"f":0.00005},{"w":10.27,"f":0.0001},{"w":10.32,"f":0.00005},{"w":10.37,"f":0.0001},{"w":10.41,"f":0.00007},{"w":10.45,"f":0.00011},{"w":10.5,"f":0.00013},{"w":10.55,"f":0.00008},{"w":10.6,"f":0.00012},{"w":10.64,"f":0.0001},{"w":10.66,"f":0.00094},{"w":10.67,"f":0.00002},{"w":10.7,"f":0.00011},{"w":10.75,"f":0.00013},{"w":10.8,"f":0.00006},{"w":10.85,"f":0.00013},{"w":10.88,"f":0.00005},{"w":10.92,"f":0.00001},{"w":10.95,"f":9.9e-8},{"w":10.98,"f":0.00002},{"w":11.02,"f":0.000001},{"w":11.06,"f":6e-7},{"w":11.1,"f":0.00005},{"w":11.14,"f":0.000004},{"w":11.18,"f":0.00003},{"w":11.24,"f":0.0000036},{"w":11.31,"f":0.0002},{"w":11.36,"f":0.00003},{"w":11.42,"f":0.00013},{"w":11.48,"f":0.00005},{"w":11.55,"f":0.00015},{"w":11.6,"f":0.0001},{"w":11.66,"f":0.00019},{"w":11.75,"f":0.00015},{"w":11.85,"f":0.00017},{"w":11.97,"f":0.00015},{"w":12.1,"f":0.00017},{"w":12.28,"f":0.00016},{"w":12.4,"f":0.00019},{"w":12.5,"f":0.00017},{"w":12.6,"f":0.0002},{"w":12.7,"f":0.00018},{"w":12.8,"f":0.0002},{"w":12.81,"f":0.023},{"w":12.82,"f":0.0002},{"w":12.95,"f":0.00019},{"w":13.1,"f":0.00021},{"w":13.3,"f":0.0002},{"w":13.5,"f":0.00023},{"w":13.7,"f":0.00022},{"w":13.9,"f":0.00025},{"w":14.1,"f":0.00024},{"w":14.3,"f":0.00027},{"w":14.5,"f":0.00029},{"w":14.7,"f":0.00031},{"w":14.85,"f":0.00032},{"w":14.95,"f":0.00025},{"w":15.04,"f":0.00012},{"w":15.1,"f":0.00006},{"w":15.2,"f":0.000045},{"w":15.3,"f":0.00005},{"w":15.4,"f":0.00008},{"w":15.5,"f":0.00013},{"w":15.55,"f":0.00085},{"w":15.56,"f":0.00015},{"w":15.7,"f":0.00022},{"w":15.85,"f":0.00029},{"w":16.0,"f":0.00034},{"w":16.5,"f":0.0004},{"w":17.0,"f":0.00048},{"w":17.5,"f":0.00055},{"w":17.9,"f":0.00063},{"w":17.92,"f":0.04},{"w":17.94,"f":0.00064},{"w":18.5,"f":0.00078},{"w":19.0,"f":0.001},{"w":19.5,"f":0.0013},{"w":20.0,"f":0.002}
          ]},
          "mark": {"type": "line", "strokeWidth": 1.6, "clip": true},
          "encoding": {
            "y": {"field": "f", "type": "quantitative", "scale": {"type": "log", "domain": [5.06e-8, 0.0381], "nice": false}, "axis": {"orient": "right", "values": [0.01, 0.0001, 0.000001], "labels": false, "title": null}},
            "color": {"datum": "JWST", "type": "nominal", "scale": {"domain": ["Spitzer (scaled)", "JWST"], "range": ["#1f77b4", "#ff7f0e"]}, "legend": {"title": null, "orient": "bottom-left", "symbolType": "M-1.2,0H2.5", "symbolSize": 400}}
          }
        },
        {
          "data": {"values": [{"w": 18.63, "f": 2.76e-7, "t": "B335"}]},
          "mark": {"type": "text", "align": "right", "baseline": "middle", "font": "DejaVu Sans", "fontSize": 21.5, "color": "black"},
          "encoding": {"text": {"field": "t"}}
        }
      ]
    }
  ]
}
